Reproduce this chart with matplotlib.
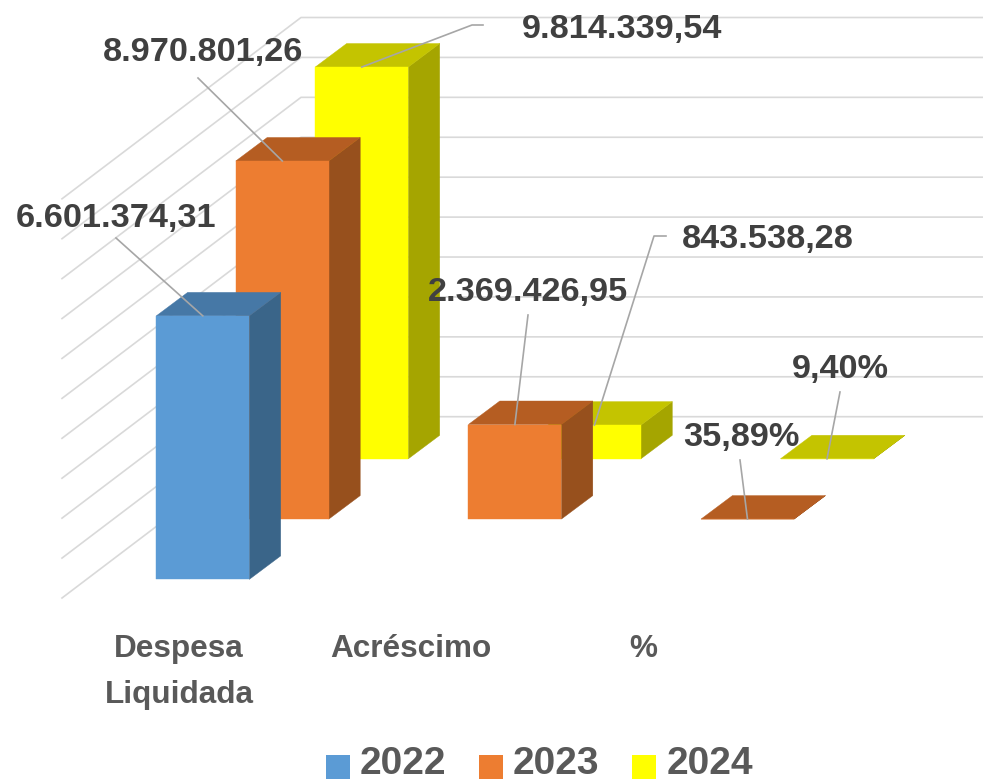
#!/bin/env python

import matplotlib
matplotlib.use('Agg')
import matplotlib.pyplot as plt
from matplotlib.patches import Rectangle

W, H = 983, 783

categories = ['Despesa\nLiquidada', 'Acréscimo', '%']
years = ['2022', '2023', '2024']

values_2022 = [6601374.31, None, None]
values_2023 = [8970801.26, 2369426.95, 0.3589]
values_2024 = [9814339.54, 843538.28, 0.094]
labels_2022 = ['6.601.374,31', None, None]
labels_2023 = ['8.970.801,26', '2.369.426,95', '35,89%']
labels_2024 = ['9.814.339,54', '843.538,28', '9,40%']

grid_values = [0, 1e6, 2e6, 3e6, 4e6, 5e6, 6e6, 7e6, 8e6, 9e6, 1e7]

front_colors = ['#5B9BD5', '#ED7D31', '#FFFF00']
top_colors = ['#4678A6', '#B55D22', '#C4C400']
side_colors = ['#3A6589', '#97501D', '#A5A500']

FONT = ['Liberation Sans Narrow', 'Liberation Sans']
PX_PER_VAL = 39.92 / 1e6
BASE_Y = 579.4
BAR_W = 93.0
DEPTH_X, DEPTH_Y = 31.4, 23.5
SERIES_DX, SERIES_DY = 79.5, 60.3
CAT_DX = 232.6
FIRST_X = 156.3


def to_val(py, series=0):
    # picture row -> value on the scale of the given series
    return (BASE_Y - series * SERIES_DY - py) / PX_PER_VAL


def bar_3d(ax, x, base, v, i):
    dy = DEPTH_Y / PX_PER_VAL
    top = base + v
    ax.fill([x + BAR_W, x + BAR_W + DEPTH_X, x + BAR_W + DEPTH_X, x + BAR_W],
            [base, base + dy, top + dy, top], color=side_colors[i], lw=0.3, zorder=2)
    ax.fill([x, x + DEPTH_X, x + BAR_W + DEPTH_X, x + BAR_W],
            [top, top + dy, top + dy, top], color=top_colors[i], lw=0.3, zorder=2)
    ax.fill([x, x + BAR_W, x + BAR_W, x], [base, base, top, top],
            color=front_colors[i], lw=0.3, zorder=2)


def main():
    fig = plt.figure(figsize=(W / 100, H / 100), dpi=100)
    ax = fig.add_axes([0, 0, 1, 1])
    ax.set_xlim(0, W)
    ax.set_ylim(to_val(H), to_val(0))
    ax.axis('off')

    # walls
    wall_y = to_val(416.7)
    for g in grid_values:
        ax.plot([62, 301, W], [wall_y + g - 181.3 / PX_PER_VAL, wall_y + g, wall_y + g],
                color='#D9D9D9', lw=1.2, zorder=1)

    # bars, back series first so the front ones cover them
    series = [values_2022, values_2023, values_2024]
    for i in [2, 1, 0]:
        for c in range(len(categories)):
            if series[i][c] is None:
                continue
            x = FIRST_X + i * SERIES_DX + c * CAT_DX
            bar_3d(ax, x, to_val(BASE_Y - i * SERIES_DY), series[i][c], i)

    # leader lines: (series, category, picture points from the label end)
    leaders = [
        (0, 0, [(116, 238)]),
        (1, 0, [(198, 78)]),
        (2, 0, [(483, 25), (472, 25)]),
        (1, 1, [(528, 315)]),
        (2, 1, [(666, 236), (654, 236)]),
        (1, 2, [(740, 460)]),
        (2, 2, [(840, 392)]),
    ]
    for i, c, pts in leaders:
        cx = FIRST_X + i * SERIES_DX + c * CAT_DX + BAR_W / 2
        top = to_val(BASE_Y - i * SERIES_DY) + series[i][c]
        xs = [p[0] for p in pts] + [cx]
        ys = [to_val(p[1]) for p in pts] + [top]
        ax.plot(xs, ys, color='#A6A6A6', lw=1.2, zorder=3)

    # data labels
    label_pos = {
        '6.601.374,31': (116, 219), '8.970.801,26': (203, 53), '9.814.339,54': (622, 30),
        '2.369.426,95': (528, 293), '843.538,28': (768, 240), '35,89%': (741, 438),
        '9,40%': (840, 370),
    }
    for text in labels_2022 + labels_2023 + labels_2024:
        if text is None:
            continue
        px, py = label_pos[text]
        ax.text(px, to_val(py), text, ha='center', va='center', family=FONT,
                weight='bold', fontsize=24.7, color='#404040', zorder=4)

    # category labels
    cat_x = [179, 411, 643]
    for name, px in zip(categories, cat_x):
        ax.text(px, to_val(634), name, ha='center', va='top', family=FONT, weight='bold',
                fontsize=22.7, color='#595959', linespacing=1.68, zorder=4)

    # legend
    square_x = [326, 479, 632]
    text_x = [403, 556, 710]
    for year, color, sx, tx in zip(years, front_colors, square_x, text_x):
        fig.add_artist(Rectangle((sx / W, 1 - 779 / H), 24 / W, 24 / H, color=color,
                                 transform=fig.transFigure, lw=0))
        ax.text(tx, to_val(764), year, ha='center', va='center', family=FONT, weight='bold',
                fontsize=28, color='#595959', zorder=4)

    plt.savefig('out.png', dpi=100)
    plt.close()


if __name__ == '__main__':
    main()
